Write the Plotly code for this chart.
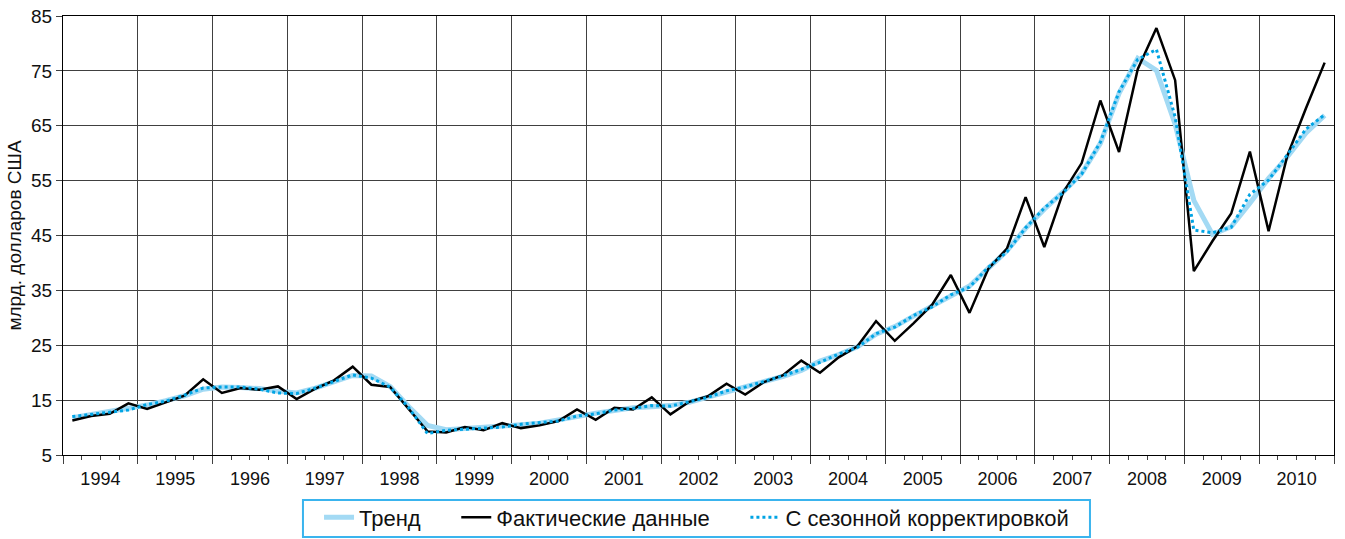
import plotly.graph_objects as go

years = list(range(1994, 2011))
year_labels = [str(y) for y in years]

actual = [11.3, 12.1, 12.5, 14.4, 13.4, 14.6, 15.8, 18.8, 16.3, 17.2, 16.9, 17.5,
          15.2, 17.1, 18.6, 21.1, 17.8, 17.4, 13.4, 9.3, 9.1, 10.1, 9.5, 10.8,
          9.9, 10.4, 11.2, 13.3, 11.4, 13.6, 13.3, 15.5, 12.4, 14.7, 15.7, 18.0,
          16.0, 18.3, 19.5, 22.2, 20.0, 22.8, 24.8, 29.4, 25.8, 29.0, 32.4, 37.8,
          30.9, 38.9, 42.6, 52.0, 42.9, 52.8, 58.2, 69.6, 60.2, 75.3, 82.8, 73.3,
          38.5, 44.0, 49.0, 60.3, 45.8, 59.5, 68.2, 76.5]

trend = [11.8, 12.4, 12.8, 13.4, 14.1, 14.9, 15.8, 17.0, 17.4, 17.3, 17.1, 16.6,
         16.3, 17.2, 18.3, 19.5, 19.4, 17.5, 13.8, 10.4, 9.6, 9.8, 9.9, 10.2,
         10.5, 10.8, 11.3, 12.0, 12.6, 13.1, 13.6, 13.8, 14.0, 14.6, 15.5, 16.6,
         17.5, 18.4, 19.3, 20.4, 22.1, 23.3, 24.7, 27.0, 28.4, 30.3, 32.1, 34.1,
         35.8, 39.0, 42.2, 46.3, 49.8, 52.9, 56.3, 61.8, 70.9, 77.3, 75.1, 65.3,
         51.4, 45.2, 46.6, 50.9, 55.4, 59.3, 63.7, 66.9]

seasonal = [12.0, 12.4, 12.7, 13.2, 14.2, 14.8, 15.9, 17.2, 17.4, 17.4, 17.0, 16.3,
            16.2, 17.2, 18.4, 19.6, 19.0, 17.4, 13.6, 8.9, 9.5, 9.7, 10.0, 10.1,
            10.6, 10.9, 11.2, 12.1, 12.5, 13.2, 13.5, 14.0, 13.9, 14.7, 15.5, 16.7,
            17.4, 18.4, 19.4, 20.6, 21.9, 23.4, 24.6, 27.1, 28.3, 30.4, 32.0, 34.2,
            35.6, 39.2, 42.0, 46.4, 50.0, 52.8, 56.2, 62.0, 71.2, 77.1, 78.9, 66.6,
            46.0, 45.5, 46.5, 52.5, 55.1, 59.7, 64.4, 67.0]

series_names = ["Тренд", "Фактические данные", "С сезонной корректировкой"]

quarters = [y + (q - 0.5) / 4 for y in years for q in range(1, 5)]

FONT = "Liberation Sans, Arial, Helvetica, sans-serif"
PAD = "\u00a0" * 5

fig = go.Figure()
fig.add_trace(go.Scatter(x=quarters, y=trend, mode="lines", name=series_names[0] + PAD,
                         line=dict(color="#a3daf4", width=5)))
fig.add_trace(go.Scatter(x=quarters, y=actual, mode="lines", name=series_names[1] + PAD,
                         line=dict(color="#000000", width=2.5)))
fig.add_trace(go.Scatter(x=quarters, y=seasonal, mode="lines", name=series_names[2],
                         line=dict(color="#00a4e4", width=3, dash="3px,3px")))
# invisible trace for the year-label axis
fig.add_trace(go.Scatter(x=[years[0] + 0.5, years[-1] + 0.5], y=[None, None], xaxis="x2",
                         showlegend=False, hoverinfo="skip"))

grid_col = "#404040"
fig.update_layout(
    width=1345, height=539,
    margin=dict(l=63, r=11, t=16, b=84),
    paper_bgcolor="white", plot_bgcolor="white",
    font=dict(family=FONT, size=18, color="#111"),
    xaxis=dict(range=[1994, 2011], tickvals=years + [2011], ticktext=[""] * 18,
               showgrid=True, gridcolor=grid_col, gridwidth=1.3,
               ticks="outside", ticklen=8, tickwidth=1.3, tickcolor=grid_col,
               minor=dict(dtick=0.25, tick0=1994, ticks="outside", ticklen=4,
                          tickcolor=grid_col, showgrid=False),
               showline=True, linecolor="#000", linewidth=1.3, mirror=True,
               zeroline=False, automargin=False),
    xaxis2=dict(range=[1994, 2011], overlaying="x", anchor="y", side="bottom",
                tickvals=[y + 0.5 for y in years], ticktext=year_labels,
                ticks="outside", ticklen=7, tickcolor="rgba(0,0,0,0)",
                showgrid=False, showline=False, zeroline=False,
                tickfont=dict(size=18), automargin=False),
    yaxis=dict(range=[5, 85], tick0=5, dtick=10,
               showgrid=True, gridcolor=grid_col, gridwidth=1.3,
               ticks="outside", ticklen=6, tickwidth=1.3, tickcolor=grid_col,
               showline=True, linecolor="#000", linewidth=1.3, mirror=True,
               zeroline=False, tickfont=dict(size=19), automargin=False,
               title=dict(text="млрд. долларов США", font=dict(size=19), standoff=4)),
    legend=dict(orientation="h", xref="container", yref="container",
                x=0.2372, xanchor="left", y=0.040, yanchor="middle",
                borderwidth=0, bgcolor="rgba(0,0,0,0)",
                font=dict(size=22), itemwidth=30, traceorder="normal"),
    showlegend=True,
    shapes=[dict(type="rect", xref="paper", yref="paper",
                 x0=0.1888, x1=0.808, y0=-0.1868, y1=-0.1025,
                 line=dict(color="#3ab4ee", width=2), fillcolor="rgba(0,0,0,0)")],
)

fig.write_html("out.html", config={"displayModeBar": False},
               post_script="document.body.style.margin='0px';")
